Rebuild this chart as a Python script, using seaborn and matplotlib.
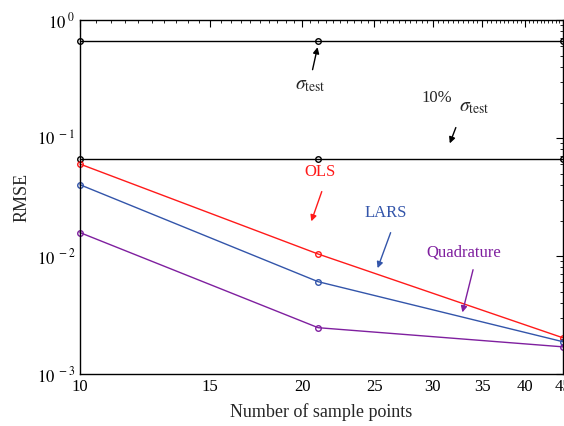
import numpy as np
import pandas as pd
import matplotlib
matplotlib.use("Agg")
import matplotlib.pyplot as plt
import matplotlib.ticker as mticker
import seaborn as sns

n_points = [10, 21, 45]
sigma_test = [0.66, 0.66, 0.66]
sigma_10 = [0.066, 0.066, 0.066]
ols = [0.0602, 0.0104, 0.00203]
lars = [0.0402, 0.00606, 0.00188]
quad = [0.0158, 0.00247, 0.0017]
x_ticks = [10, 15, 20, 25, 30, 35, 40, 45]

sns.set_style("white")
plt.rcParams['font.family'] = ['Liberation Serif', 'DejaVu Serif']
plt.rcParams['mathtext.fontset'] = 'stix'

rows = []
for name, vals in [("sigma", sigma_test), ("sigma10", sigma_10), ("OLS", ols),
                   ("LARS", lars), ("Quadrature", quad)]:
    for x, v in zip(n_points, vals):
        rows.append({"n": x, "rmse": v, "method": name})
df = pd.DataFrame(rows)

palette = {"sigma": "black", "sigma10": "black", "OLS": "#ff1a1a",
           "LARS": "#3355aa", "Quadrature": "#7f1f9f"}

fig = plt.figure(figsize=(5.64, 4.26), dpi=100)
ax = fig.add_axes([0.1418, 0.122, 0.856, 0.831])
sns.lineplot(data=df, x="n", y="rmse", hue="method", palette=palette,
             marker="o", markersize=4, markerfacecolor="none",
             markeredgewidth=1.0, linewidth=1.0, legend=False, ax=ax,
             estimator=None, sort=False)
for line in ax.lines:
    line.set_markeredgecolor(line.get_color())
    line.set_clip_on(False)

ax.set_xscale("log")
ax.set_yscale("log")
ax.set_xlim(10, 45)
ax.set_ylim(1e-3, 1e0)
ax.xaxis.set_major_locator(mticker.FixedLocator(x_ticks))
ax.xaxis.set_major_formatter(mticker.FixedFormatter([str(t) for t in x_ticks]))
ax.xaxis.set_minor_locator(mticker.FixedLocator(np.arange(10, 45.01, 0.5)))
ax.xaxis.set_minor_formatter(mticker.NullFormatter())
ax.yaxis.set_major_locator(mticker.LogLocator(base=10, numticks=10))
ax.yaxis.set_minor_locator(mticker.LogLocator(base=10, subs=np.arange(2, 10), numticks=10))
ax.yaxis.set_major_formatter(mticker.FuncFormatter(
    lambda v, p: r"$10^{\ %d}$" % int(round(np.log10(v)))))
ax.tick_params(which="both", direction="in", top=True, right=True,
               labelsize=12, colors="black")
ax.tick_params(which="major", length=5, width=0.8)
ax.tick_params(which="minor", length=2.5, width=0.6)
for s in ax.spines.values():
    s.set_color("black")
    s.set_linewidth(1.0)

ax.set_xlabel("Number of sample points", fontsize=13, labelpad=6)
ax.set_ylabel("RMSE", fontsize=13, labelpad=4)

ap = dict(arrowstyle="-|>", lw=1.0, mutation_scale=9)
# sigma_test
ax.annotate("", xy=(21, 0.62), xytext=(20.6, 0.36),
            arrowprops=dict(color="black", **ap))
ax.text(20.5, 0.276, r"$\sigma_{\mathrm{test}}$", fontsize=14, ha="center", va="center")
ax.text(30.4, 0.218, "10%", fontsize=12, ha="center", va="center")
ax.text(34.2, 0.18, r"$\sigma_{\mathrm{test}}$", fontsize=14, ha="center", va="center")
ax.annotate("", xy=(31.55, 0.0856), xytext=(32.35, 0.129),
            arrowprops=dict(color="black", **ap))
# OLS
ax.text(21.1, 0.0515, "OLS", fontsize=12, color="#ff1a1a", ha="center", va="center")
ax.annotate("", xy=(20.5, 0.0187), xytext=(21.3, 0.037),
            arrowprops=dict(color="#ff1a1a", **ap))
# LARS
ax.text(25.9, 0.0231, "LARS", fontsize=12, color="#3355aa", ha="center", va="center")
ax.annotate("", xy=(25.2, 0.0075), xytext=(26.4, 0.0166),
            arrowprops=dict(color="#3355aa", **ap))
# Quadrature
ax.text(33.06, 0.0108, "Quadrature", fontsize=12, color="#7f1f9f", ha="center", va="center")
ax.annotate("", xy=(32.85, 0.00316), xytext=(34.1, 0.00807),
            arrowprops=dict(color="#7f1f9f", **ap))

fig.savefig("out.png", dpi=100)
